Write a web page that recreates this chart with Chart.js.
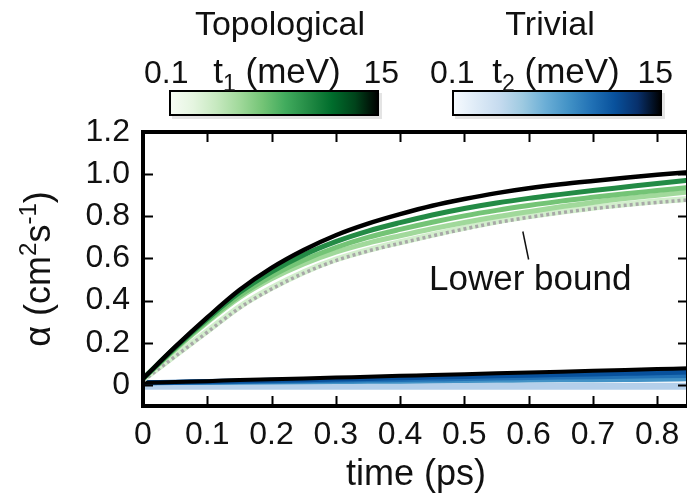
<!DOCTYPE html>
<html>
<head>
  <script src="https://cdn.jsdelivr.net/npm/chart.js@4.4.1/dist/chart.umd.min.js"></script>
  <style>
    html, body { margin: 0; padding: 0; background: #fff; overflow: hidden; }
    #wrap { width: 687px; height: 495px; overflow: hidden; }
  </style>
</head>
<body>
  <div id="wrap">
    <canvas id="myChart" width="695" height="495" style="width:695px;height:495px"></canvas>
  </div>
  <script>
    // time axis (ps)
    const time = [0, 0.05, 0.1, 0.15, 0.2, 0.25, 0.3, 0.35, 0.4, 0.45, 0.5, 0.55, 0.6, 0.65, 0.7, 0.75, 0.8, 0.85]

    // topological curves, t1 from 0.1 (pale) to 15 meV (black)
    const topoBlack = [0.03, 0.18, 0.32, 0.45, 0.555, 0.64, 0.71, 0.765, 0.81, 0.85, 0.882, 0.91, 0.933, 0.952, 0.968, 0.983, 0.997, 1.01]
    const topoDark  = [0.03, 0.177, 0.313, 0.438, 0.537, 0.617, 0.68, 0.73, 0.77, 0.806, 0.837, 0.863, 0.885, 0.904, 0.922, 0.939, 0.956, 0.972]
    const topoMid   = [0.03, 0.172, 0.303, 0.423, 0.517, 0.592, 0.652, 0.7, 0.738, 0.772, 0.802, 0.828, 0.851, 0.872, 0.89, 0.907, 0.922, 0.937]
    const topoLight = [0.03, 0.168, 0.297, 0.414, 0.503, 0.574, 0.63, 0.673, 0.708, 0.741, 0.771, 0.798, 0.822, 0.845, 0.866, 0.884, 0.9, 0.916]
    const topoPale  = [0.025, 0.14, 0.255, 0.37, 0.46, 0.535, 0.595, 0.64, 0.677, 0.712, 0.745, 0.775, 0.8, 0.822, 0.841, 0.857, 0.871, 0.883]
    const lowerBound = [0.02, 0.135, 0.25, 0.365, 0.455, 0.53, 0.59, 0.635, 0.672, 0.707, 0.74, 0.77, 0.795, 0.817, 0.836, 0.852, 0.866, 0.878]

    // trivial curves, t2 from 0.1 (pale) to 15 meV (black)
    const trivBlack = [0.01, 0.014, 0.018, 0.023, 0.027, 0.031, 0.035, 0.039, 0.043, 0.047, 0.051, 0.055, 0.059, 0.063, 0.067, 0.071, 0.075, 0.079]
    const trivDark  = [0.01, 0.013, 0.016, 0.019, 0.022, 0.025, 0.028, 0.031, 0.034, 0.037, 0.040, 0.043, 0.046, 0.049, 0.052, 0.055, 0.058, 0.062]
    const trivMid   = [0.01, 0.012, 0.014, 0.016, 0.018, 0.020, 0.022, 0.024, 0.026, 0.028, 0.030, 0.033, 0.035, 0.037, 0.039, 0.041, 0.043, 0.045]
    const trivLight = [0.01, 0.011, 0.012, 0.013, 0.014, 0.015, 0.016, 0.017, 0.018, 0.020, 0.021, 0.022, 0.023, 0.024, 0.025, 0.026, 0.027, 0.029]
    const trivPale  = [-0.006, -0.006, -0.006, -0.006, -0.006, -0.006, -0.006, -0.006, -0.006, -0.006, -0.006, -0.006, -0.006, -0.006, -0.006, -0.006, -0.006, -0.006]

    const xTicks = [0, 0.1, 0.2, 0.3, 0.4, 0.5, 0.6, 0.7, 0.8]
    const yTicks = [0, 0.2, 0.4, 0.6, 0.8, 1.0, 1.2]

    const greens = ['#f7fcf5', '#e5f5e0', '#c7e9c0', '#a1d99b', '#74c476', '#41ab5d', '#238b45', '#006d2c', '#00441b', '#000000']
    const blues = ['#f7fbff', '#deebf7', '#c6dbef', '#9ecae1', '#6baed6', '#4292c6', '#2171b5', '#08519c', '#08306b', '#000000']

    const FONT = '"Liberation Sans", Arial, sans-serif'

    function pts(arr) {
      return time.map((t, i) => ({ x: t, y: arr[i] }))
    }

    function line(data, color, width, extra) {
      return Object.assign({
        data: pts(data),
        borderColor: color,
        borderWidth: width,
        pointRadius: 0,
        cubicInterpolationMode: 'monotone',
        fill: false
      }, extra || {})
    }

    // draws a run of text pieces, some of them raised or lowered
    function drawParts(ctx, parts, x, y, align) {
      let w = 0
      parts.forEach(p => {
        ctx.font = p.size + 'px ' + FONT
        w += ctx.measureText(p.t).width
      })
      let cx = align === 'center' ? x - w / 2 : (align === 'right' ? x - w : x)
      ctx.textAlign = 'left'
      ctx.textBaseline = 'alphabetic'
      parts.forEach(p => {
        ctx.font = p.size + 'px ' + FONT
        ctx.fillText(p.t, cx, y + (p.dy || 0))
        cx += ctx.measureText(p.t).width
      })
    }

    function colorbar(ctx, x, y, w, h, stops) {
      const g = ctx.createLinearGradient(x, 0, x + w, 0)
      stops.forEach((c, i) => g.addColorStop(i / (stops.length - 1), c))
      ctx.fillStyle = '#e4e4e4'
      ctx.fillRect(x + 2, y + 2, w + 2, h + 2)
      ctx.fillStyle = g
      ctx.fillRect(x, y, w, h)
      ctx.strokeStyle = '#000'
      ctx.lineWidth = 2
      ctx.strokeRect(x, y, w, h)
    }

    const decor = {
      id: 'decor',
      afterDraw(chart) {
        const ctx = chart.ctx
        const a = chart.chartArea
        const xs = chart.scales.x
        const ys = chart.scales.y
        ctx.save()

        // frame
        ctx.strokeStyle = '#000'
        ctx.lineWidth = 4
        ctx.strokeRect(a.left, a.top, a.right - a.left, a.bottom - a.top)

        // inward ticks
        ctx.lineWidth = 2
        ctx.beginPath()
        xTicks.forEach(v => {
          const px = Math.round(xs.getPixelForValue(v)) + 0.5
          if (v === 0) return
          ctx.moveTo(px, a.bottom); ctx.lineTo(px, a.bottom - 10)
          ctx.moveTo(px, a.top); ctx.lineTo(px, a.top + 10)
        })
        yTicks.forEach(v => {
          const py = Math.round(ys.getPixelForValue(v)) + 0.5
          if (v === 1.2) return
          ctx.moveTo(a.left, py); ctx.lineTo(a.left + 10, py)
          ctx.moveTo(a.right, py); ctx.lineTo(a.right - 10, py)
        })
        ctx.stroke()

        ctx.fillStyle = '#111'

        // axis titles
        drawParts(ctx, [{ t: 'time (ps)', size: 36 }], 416, 485, 'center')

        ctx.save()
        ctx.translate(50, (a.top + a.bottom) / 2)
        ctx.rotate(-Math.PI / 2)
        drawParts(ctx, [
          { t: 'α (cm', size: 36 },
          { t: '2', size: 24, dy: -14 },
          { t: 's', size: 36 },
          { t: '-1', size: 24, dy: -14 },
          { t: ')', size: 36 }
        ], 0, 0, 'center')
        ctx.restore()

        // lower bound note
        const lx0 = xs.getPixelForValue(0.591), ly0 = ys.getPixelForValue(0.728)
        const lx1 = xs.getPixelForValue(0.600), ly1 = ys.getPixelForValue(0.595)
        ctx.strokeStyle = '#111'
        ctx.lineWidth = 1.5
        ctx.beginPath()
        ctx.moveTo(lx0, ly0); ctx.lineTo(lx1, ly1)
        ctx.stroke()
        drawParts(ctx, [{ t: 'Lower bound', size: 35 }], xs.getPixelForValue(0.445), ys.getPixelForValue(0.452), 'left')

        // colour bars
        colorbar(ctx, 170, 91, 208, 24, greens)
        colorbar(ctx, 453, 91, 208, 24, blues)
        ctx.fillStyle = '#111'
        drawParts(ctx, [{ t: 'Topological', size: 34 }], 280, 35, 'center')
        drawParts(ctx, [{ t: 'Trivial', size: 34 }], 550, 35, 'center')

        drawParts(ctx, [{ t: '0.1', size: 32 }], 144, 83, 'left')
        drawParts(ctx, [{ t: 't', size: 35 }, { t: '1', size: 23, dy: 8 }, { t: ' (meV)', size: 35 }], 277, 83, 'center')
        drawParts(ctx, [{ t: '15', size: 32 }], 399, 83, 'right')

        drawParts(ctx, [{ t: '0.1', size: 32 }], 430, 83, 'left')
        drawParts(ctx, [{ t: 't', size: 35 }, { t: '2', size: 23, dy: 8 }, { t: ' (meV)', size: 35 }], 556, 83, 'center')
        drawParts(ctx, [{ t: '15', size: 32 }], 673, 83, 'right')

        ctx.restore()
      }
    }

    const ctx = document.getElementById('myChart').getContext('2d')
    const chart = new Chart(ctx, {
      type: 'line',
      data: {
        datasets: [
          line(topoBlack, '#000000', 4.5),
          line(topoDark, '#238b45', 5),
          line(topoMid, '#74c476', 5),
          line(topoLight, '#a1d99b', 5),
          line(lowerBound, '#a8a8a8', 3.5, { borderDash: [3, 3] }),
          line(topoPale, '#d3eecd', 6),
          line(trivBlack, '#000000', 4),
          line(trivDark, '#08519c', 5),
          line(trivMid, '#2171b5', 5),
          line(trivLight, '#4292c6', 5),
          line(trivPale, '#b4cfea', 7)
        ]
      },
      options: {
        responsive: false,
        animation: false,
        layout: { padding: { top: 132, right: 7, left: 0, bottom: 0 } },
        plugins: {
          legend: { display: false },
          tooltip: { enabled: false }
        },
        scales: {
          x: {
            type: 'linear',
            min: 0,
            max: 0.848,
            afterBuildTicks: s => { s.ticks = xTicks.map(v => ({ value: v })) },
            afterFit: s => { s.height = 89 },
            grid: { display: false, drawTicks: false },
            border: { display: false },
            ticks: {
              color: '#111',
              font: { family: FONT, size: 32 },
              padding: 10,
              maxRotation: 0,
              autoSkip: false,
              callback: v => v === 0 ? '0' : v.toFixed(1)
            }
          },
          y: {
            type: 'linear',
            min: -0.1,
            max: 1.2,
            afterBuildTicks: s => { s.ticks = yTicks.map(v => ({ value: v })) },
            afterFit: s => { s.width = 143 },
            grid: { display: false, drawTicks: false },
            border: { display: false },
            ticks: {
              color: '#111',
              font: { family: FONT, size: 32 },
              padding: 13,
              autoSkip: false,
              callback: v => v === 0 ? '0' : v.toFixed(1)
            }
          }
        }
      },
      plugins: [decor]
    })
  </script>
</body>
</html>
